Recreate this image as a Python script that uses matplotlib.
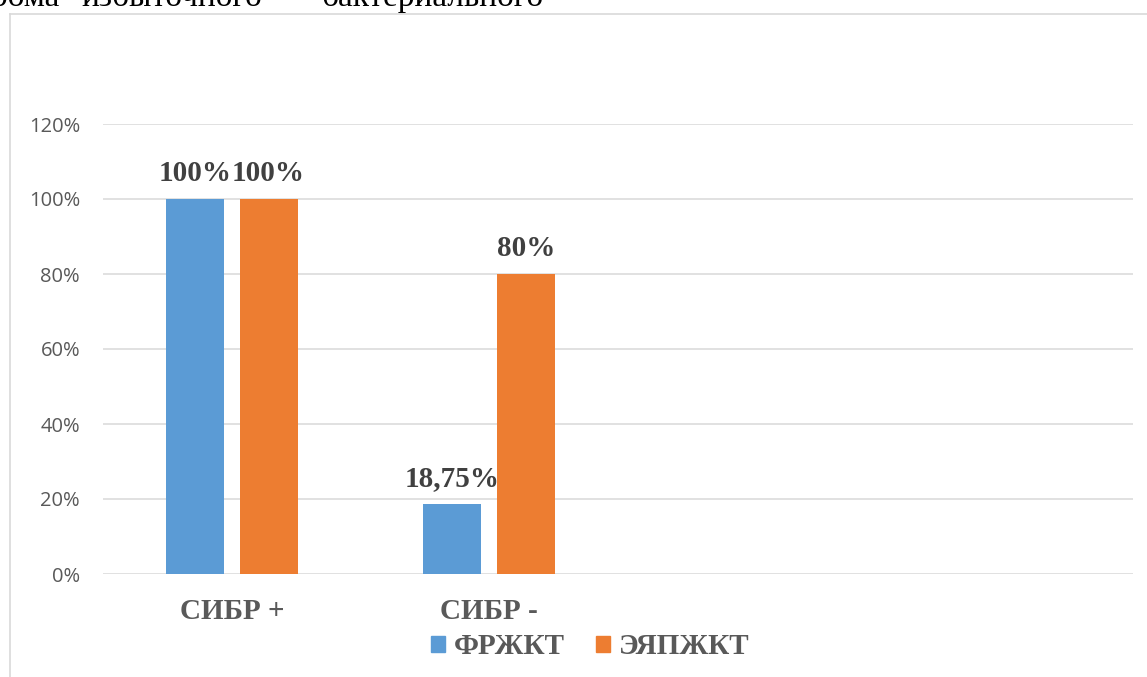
import numpy as np
import matplotlib.pyplot as plt
from matplotlib.patches import Patch
from matplotlib.lines import Line2D

# данные диаграммы
categories = ["СИБР +", "СИБР -", "", ""]
series_names = ["ФРЖКТ", "ЭЯПЖКТ"]
frzhkt = [1.00, 0.1875, np.nan, np.nan]
eyapzhkt = [1.00, 0.80, np.nan, np.nan]
colors = ["#5B9BD5", "#ED7D31"]
yticks = [0, 0.2, 0.4, 0.6, 0.8, 1.0, 1.2]

fig = plt.figure(figsize=(11.47, 6.77), dpi=100)
ax = fig.add_axes([103 / 1147, 1 - 574 / 677, 1030 / 1147, 450 / 677])

x = np.arange(len(categories))
width = 0.225
offset = 0.143
serif = ["Liberation Serif", "DejaVu Serif"]

for vals, name, color, dx in zip([frzhkt, eyapzhkt], series_names, colors, [-offset, offset]):
    vals = np.array(vals, dtype=float)
    ok = ~np.isnan(vals)
    bars = ax.bar(x[ok] + dx, vals[ok], width, color=color, label=name, zorder=3)
    for b, v in zip(bars, vals[ok]):
        txt = f"{round(v * 100, 2):g}%".replace(".", ",")
        ax.annotate(txt, (b.get_x() + b.get_width() / 2, v), xytext=(0, 13),
                    textcoords="offset points", ha="center", va="baseline",
                    fontsize=21, fontweight="bold", family=serif, color="#404040")

ax.set_xlim(-0.5, len(categories) - 0.5)
ax.set_ylim(0, 1.2)
ax.set_yticks(yticks)
ax.set_yticklabels([f"{int(round(t * 100))}%" for t in yticks],
                   family=["Open Sans", "DejaVu Sans"], fontsize=14.5, color="#595959")
ax.set_xticks(x)
ax.set_xticklabels(categories, family=serif, fontsize=21, fontweight="bold", color="#595959")
ax.tick_params(axis="y", length=0, pad=16.5)
ax.tick_params(axis="x", length=0, pad=17)
ax.grid(axis="y", color="#D9D9D9", linewidth=1.1, zorder=0)
for s in ["top", "right", "left", "bottom"]:
    ax.spines[s].set_visible(False)

handles = [Patch(color=c, label=n) for c, n in zip(colors, series_names)]
fig.legend(handles=handles, loc="center", bbox_to_anchor=(590 / 1147, 1 - 647 / 677),
           ncol=2, frameon=False, handlelength=0.5, handleheight=0.5,
           handletextpad=0.28, columnspacing=1.07,
           prop={"family": serif, "size": 21, "weight": "bold"}, labelcolor="#595959")

# рамка области диаграммы (левая и верхняя стороны)
fig.add_artist(Line2D([10 / 1147, 10 / 1147], [0, 1 - 14 / 677], color="#D9D9D9", lw=1.2))
fig.add_artist(Line2D([10 / 1147, 1], [1 - 14 / 677, 1 - 14 / 677], color="#D9D9D9", lw=1.2))

# строка текста над диаграммой, срезанная верхним краем
for word, px, ha in [("дрома", 60, "right"), ("избыточного", 172, "center"),
                     ("бактериального", 432, "center")]:
    fig.text(px / 1147, 1 - 6 / 677, word, family=serif, fontsize=24,
             color="black", ha=ha, va="baseline")

fig.savefig("out.png", dpi=100)
